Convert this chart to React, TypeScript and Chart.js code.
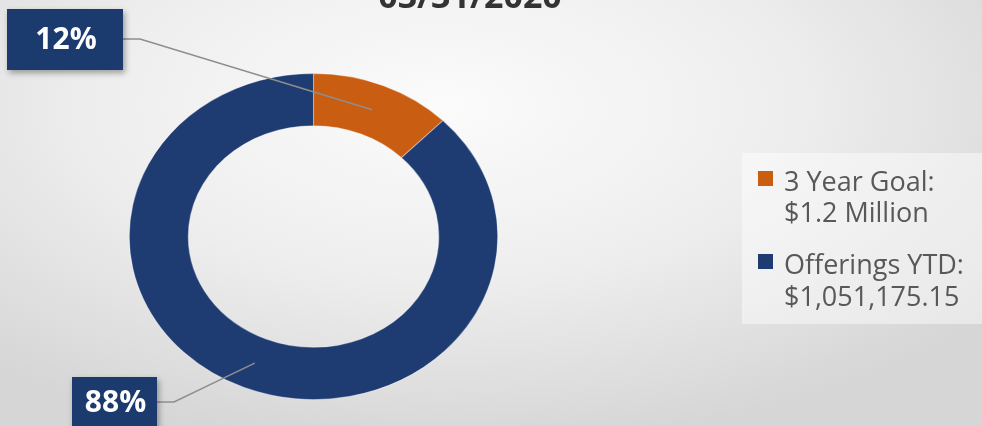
import React, { useEffect, useRef } from "react";
import { Chart, registerables } from "chart.js";

Chart.register(...registerables);

// ---- data ----
const titleText = "03/31/2020";
const sliceLabels = ["3 Year Goal: $1.2 Million", "Offerings YTD: $1,051,175.15"];
const legendLines = [
  ["3 Year Goal:", "$1.2 Million"],
  ["Offerings YTD:", "$1,051,175.15"],
];
const sliceValues = [148824.85, 1051175.15];

// ---- styles ----
const ORANGE = "#c95e12";
const NAVY = "#1e3c72";
const X_STRETCH = 1.13;
const FONT = "'Open Sans', 'DejaVu Sans', sans-serif";

const calloutBoxes = [
  { x: 7, y: 9, w: 116, h: 61 },
  { x: 72, y: 377, w: 85, h: 54 },
];

const overlayPlugin = {
  id: "overlay",
  beforeDatasetsDraw(chart: any) {
    const arc = chart.getDatasetMeta(0).data[0];
    const ctx = chart.ctx;
    ctx.save();
    ctx.translate(arc.x, 0);
    ctx.scale(X_STRETCH, 1);
    ctx.translate(-arc.x, 0);
  },
  afterDatasetsDraw(chart: any) {
    chart.ctx.restore();
  },
  afterDraw(chart: any) {
    const ctx: CanvasRenderingContext2D = chart.ctx;
    const meta = chart.getDatasetMeta(0);
    const data: number[] = chart.data.datasets[0].data;
    const colors: string[] = chart.data.datasets[0].backgroundColor;
    const total = data.reduce((a, b) => a + b, 0);

    // title (cut off at the top)
    ctx.save();
    ctx.font = `bold 34px ${FONT}`;
    ctx.fillStyle = "#333333";
    ctx.textAlign = "center";
    ctx.textBaseline = "alphabetic";
    ctx.fillText(titleText, 470, 8);
    ctx.restore();

    // legend box
    ctx.save();
    ctx.fillStyle = "rgba(255,255,255,0.45)";
    ctx.fillRect(742, 153, 260, 171);
    const baselines = [[191, 222], [274, 306]];
    legendLines.forEach((lines, i) => {
      ctx.fillStyle = colors[i];
      ctx.fillRect(758, baselines[i][0] - 20, 15, 15);
      ctx.fillStyle = "#585858";
      ctx.font = `27px ${FONT}`;
      ctx.textAlign = "left";
      ctx.textBaseline = "alphabetic";
      lines.forEach((t, j) => ctx.fillText(t, 784, baselines[i][j]));
    });
    ctx.restore();

    // callouts
    meta.data.forEach((arc: any, i: number) => {
      const p = arc.getProps(["startAngle", "endAngle", "innerRadius", "outerRadius", "x", "y"], true);
      const mid = (p.startAngle + p.endAngle) / 2;
      const r = (p.innerRadius + p.outerRadius) / 2;
      const px = p.x + Math.cos(mid) * r * X_STRETCH;
      const py = p.y + Math.sin(mid) * r;
      const b = calloutBoxes[i];
      const ly = i === 0 ? b.y + 30 : b.y + 25;
      ctx.save();
      ctx.strokeStyle = "#8e8e8e";
      ctx.lineWidth = 1.5;
      ctx.beginPath();
      ctx.moveTo(b.x + b.w, ly);
      ctx.lineTo(b.x + b.w + 17, ly);
      ctx.lineTo(px, py);
      ctx.stroke();
      ctx.shadowColor = "rgba(0,0,0,0.35)";
      ctx.shadowBlur = 6;
      ctx.shadowOffsetX = 2;
      ctx.shadowOffsetY = 3;
      ctx.fillStyle = "#1b3a6e";
      ctx.fillRect(b.x, b.y, b.w, b.h);
      ctx.shadowColor = "transparent";
      ctx.fillStyle = "#ffffff";
      ctx.font = `bold 30px ${FONT}`;
      ctx.textAlign = "center";
      ctx.textBaseline = "middle";
      const pct = Math.round((data[i] / total) * 100) + "%";
      ctx.fillText(pct, b.x + b.w / 2 + 1, ly + 1);
      ctx.restore();
    });
  },
};

export default function App() {
  const ref = useRef<HTMLCanvasElement>(null);
  useEffect(() => {
    document.body.style.margin = "0";
    const chart = new Chart(ref.current!, {
      type: "doughnut",
      data: {
        labels: sliceLabels,
        datasets: [
          {
            data: sliceValues,
            backgroundColor: [ORANGE, NAVY],
            borderColor: "rgba(255,255,255,0.35)",
            borderWidth: 1,
          },
        ],
      },
      options: {
        responsive: false,
        animation: false,
        devicePixelRatio: 1,
        cutout: "68%",
        layout: { padding: { left: 150, right: 505, top: 73, bottom: 26 } },
        plugins: {
          legend: { display: false },
          tooltip: { enabled: false },
        },
      },
      plugins: [overlayPlugin],
    });
    return () => chart.destroy();
  }, []);
  return (
    <div
      style={{
        position: "fixed",
        left: 0,
        top: 0,
        width: 982,
        height: 426,
        overflow: "hidden",
        background:
          "radial-gradient(ellipse 70% 80% at 45% 25%, #fbfbfb 0%, #eeeeee 50%, #d6d6d6 100%)",
      }}
    >
      <canvas ref={ref} width={982} height={426} style={{ display: "block" }} />
    </div>
  );
}
